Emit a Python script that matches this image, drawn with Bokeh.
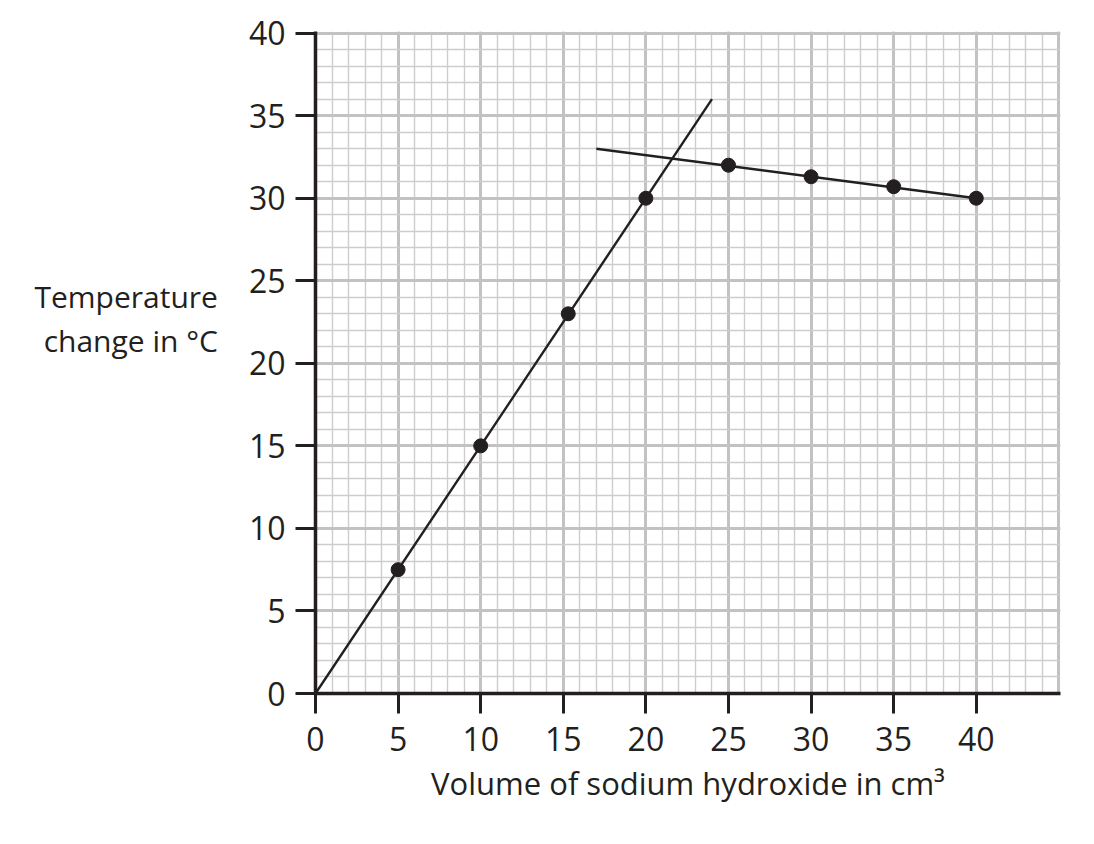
from bokeh.plotting import figure
from bokeh.models import FixedTicker, Grid, Range1d
from bokeh.embed import file_html
from bokeh.resources import INLINE

# data
volume = [5, 10, 15.3, 20, 25, 30, 35, 40]
temp_change = [7.5, 15, 23, 30, 32, 31.3, 30.7, 30]
rise_line_x = [0, 24]
rise_line_y = [0, 36]
fall_line_x = [17, 40]
fall_line_y = [33, 30]
x_ticks = [0, 5, 10, 15, 20, 25, 30, 35, 40]
y_ticks = [0, 5, 10, 15, 20, 25, 30, 35, 40]
grid_major_x = [0, 5, 10, 15, 20, 25, 30, 35, 40, 45]
grid_minor_x = list(range(0, 46))
grid_major_y = [0, 5, 10, 15, 20, 25, 30, 35, 40]
grid_minor_y = list(range(0, 41))
y_label_lines = ["Temperature", "change in °C", "\u00a0", "\u00a0"]

FONT = "Open Sans"
INK = "#231f20"

p = figure(frame_width=745, frame_height=662,
           x_range=Range1d(0, 45.1), y_range=Range1d(0, 40.1),
           output_backend="svg", toolbar_location=None,
           min_border_left=315, min_border_top=31,
           min_border_right=20, min_border_bottom=110)
p.outline_line_color = None
p.background_fill_color = "white"
p.border_fill_color = "white"

# grids
p.xgrid.visible = False
p.ygrid.visible = False
gx = Grid(dimension=0, ticker=FixedTicker(ticks=grid_major_x, minor_ticks=grid_minor_x),
          grid_line_color="#c2c2c2", grid_line_width=3,
          minor_grid_line_color="#cdcdcd", minor_grid_line_width=1.4)
gy = Grid(dimension=1, ticker=FixedTicker(ticks=grid_major_y, minor_ticks=grid_minor_y),
          grid_line_color="#c2c2c2", grid_line_width=3,
          minor_grid_line_color="#cdcdcd", minor_grid_line_width=1.4)
p.add_layout(gx)
p.add_layout(gy)

# axes
for ax, ticks in ((p.xaxis[0], x_ticks), (p.yaxis[0], y_ticks)):
    ax.ticker = FixedTicker(ticks=ticks)
    ax.axis_line_color = INK
    ax.axis_line_width = 3.5
    ax.major_tick_line_color = INK
    ax.major_tick_line_width = 3
    ax.major_tick_out = 20
    ax.major_tick_in = 0
    ax.minor_tick_line_color = None
    ax.major_label_text_font = FONT
    ax.major_label_text_font_size = "32px"
    ax.major_label_text_color = INK
p.xaxis.major_label_standoff = 13
p.yaxis.major_label_standoff = 10

p.xaxis.axis_label = "Volume of sodium hydroxide in cm³"
p.xaxis.axis_label_text_font = FONT
p.xaxis.axis_label_text_font_size = "31px"
p.xaxis.axis_label_text_font_style = "normal"
p.xaxis.axis_label_text_color = INK
p.xaxis.axis_label_standoff = 8

p.yaxis.axis_label = "\n".join(y_label_lines)
p.yaxis.axis_label_orientation = "horizontal"
p.yaxis.axis_label_text_font = FONT
p.yaxis.axis_label_text_font_size = "30px"
p.yaxis.axis_label_text_font_style = "normal"
p.yaxis.axis_label_text_color = INK
p.yaxis.axis_label_text_line_height = 1.08
p.yaxis.axis_label_standoff = 28

# lines and points
p.line(rise_line_x, rise_line_y, line_color=INK, line_width=2.4)
p.line(fall_line_x, fall_line_y, line_color=INK, line_width=2.4)
p.scatter(volume, temp_change, size=14, fill_color=INK, line_color=INK)

open("out.html", "w").write(file_html(p, INLINE))
